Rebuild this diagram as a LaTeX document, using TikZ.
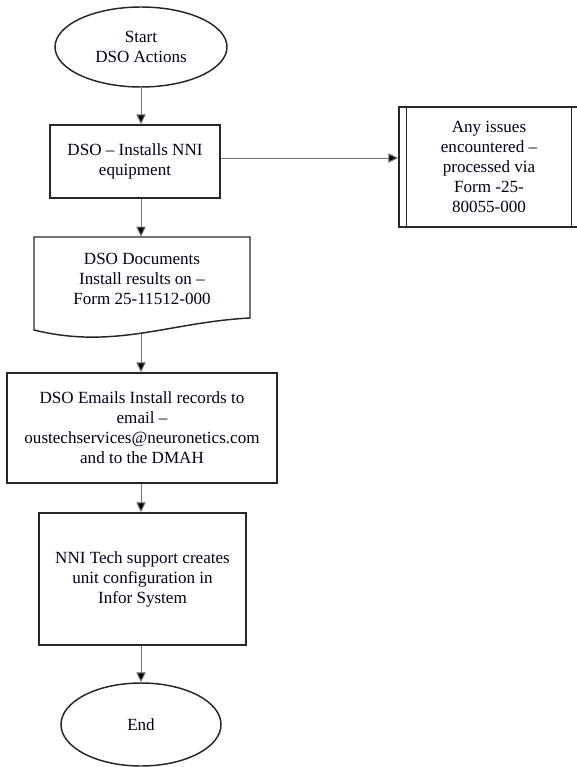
\documentclass[tikz,border=0pt]{standalone}
\usepackage{fontspec}
\setmainfont{Liberation Serif}
\usetikzlibrary{shapes.geometric,arrows.meta}
\begin{document}
\begin{tikzpicture}[x=0.75pt,y=-0.75pt,
  lbl/.style={align=center, font=\fontsize{12.8}{15}\selectfont, text=black!90!blue, inner sep=0pt},
  box/.style={lbl, draw=black!85, line width=1.1pt},
  term/.style={lbl, ellipse, draw=black!85, line width=1.1pt},
  shapeline/.style={draw=black!85, line width=1.1pt},
  arr/.style={draw=black!55, line width=0.75pt, -{Triangle[length=7.5pt,width=7pt,fill=black]}}
]
\useasboundingbox (0,0) rectangle (576,767);
% nodes
\node[term, minimum width=129pt, minimum height=60pt] (start) at (141,47) {Start\\DSO Actions};
\node[box, minimum width=127.5pt, minimum height=54.75pt] (inst) at (135,161.5) {DSO – Installs NNI\\equipment};
\node[box, minimum width=135pt, minimum height=90pt] (pp) at (489,167) {Any issues\\encountered –\\processed via\\Form -25-\\80055-000};
\draw[shapeline] ([xshift=6pt]pp.north west) -- ([xshift=6pt]pp.south west);
\draw[shapeline] ([xshift=-6pt]pp.north east) -- ([xshift=-6pt]pp.south east);
% document shape
\node[minimum width=162pt, minimum height=69.75pt, inner sep=0pt] (doc) at (142,283.5) {};
\draw[shapeline] (34,330) -- (34,237) -- (250,237) -- (250,318) .. controls (170,322) and (115,350) .. (34,330) -- cycle;
\node[lbl] (doctext) at (142,278.5) {DSO Documents\\Install results on –\\Form 25-11512-000};
\coordinate (docbot) at (141,334);
\node[box, minimum width=202.5pt, minimum height=82.5pt] (emails) at (142,428) {DSO Emails Install records to\\email –\\oustechservices@neuronetics.com\\and to the DMAH};
\node[box, minimum width=155.25pt, minimum height=99pt] (tech) at (142.5,579) {NNI Tech support creates\\unit configuration in\\Infor System};
\node[term, minimum width=120pt, minimum height=62.25pt] (end) at (141,724.5) {End};
\coordinate (mid) at (300,158);
% connectors
\draw[arr] (start.south) -- (start.south |- inst.north);
\draw[arr] (inst.east |- mid) -- (pp.west |- mid);
\draw[arr] (inst.south -| docbot) -- (doc.north -| docbot);
\draw[arr] (docbot) -- (docbot |- emails.north);
\draw[arr] (emails.south -| start) -- (tech.north -| start);
\draw[arr] (tech.south -| end) -- (end.north);
\end{tikzpicture}
\end{document}
